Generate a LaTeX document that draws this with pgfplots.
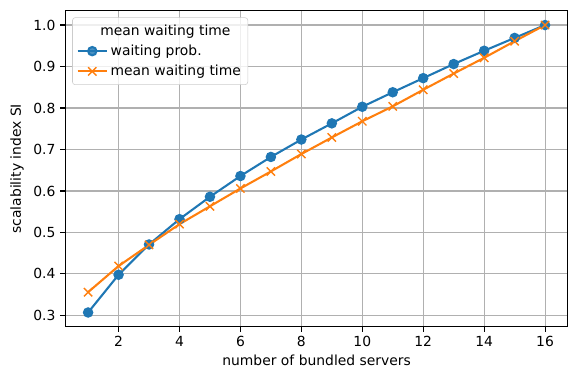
\documentclass[border=0pt]{standalone}
\usepackage{fontspec}
\setmainfont{DejaVu Sans}
\usepackage{pgfplots}
\pgfplotsset{compat=1.18}
\definecolor{mplblue}{HTML}{1F77B4}
\definecolor{mplorange}{HTML}{FF7F0E}
\definecolor{gridgray}{HTML}{B0B0B0}
\definecolor{legframe}{HTML}{CCCCCC}
\begin{document}
\fontsize{10}{12}\selectfont
\begin{tikzpicture}
\begin{axis}[
  scale only axis,
  width=362pt, height=227.7pt,
  xmin=0.25, xmax=16.75,
  ymin=0.27235, ymax=1.03465,
  xtick={2,4,...,16},
  ytick={0.3,0.4,...,1.0},
  yticklabel style={/pgf/number format/.cd, fixed, fixed zerofill, precision=1},
  /pgf/number format/assume math mode=true,
  tick pos=left,
  tick align=outside,
  major tick length=3.5pt,
  every tick/.style={black, line width=0.8pt},
  axis line style={line width=0.8pt},
  grid=major,
  major grid style={gridgray, line width=0.8pt},
  ticklabel style={font=\fontsize{10}{12}\selectfont},
  xlabel={number of bundled servers},
  ylabel={scalability index SI},
  xlabel style={yshift=1.5pt},
  label style={font=\fontsize{10}{12}\selectfont},
  legend cell align=left,
  legend style={at={(0,1)}, anchor=north west, xshift=5pt, yshift=-4.8pt,
    draw=legframe, rounded corners=2pt, fill=white, fill opacity=0.8, text opacity=1,
    font=\fontsize{10}{12}\selectfont, row sep=1.5pt, inner sep=3pt},
  legend image code/.code={\draw[mark repeat=2,mark phase=2] plot coordinates {(0pt,0pt) (10.5pt,0pt) (21pt,0pt)};},
]
\addlegendimage{empty legend}
\addlegendentry{\hspace{-7.5pt}mean waiting time}
\addplot[mplblue, line width=1.5pt, mark=*, mark size=3pt, mark options={fill=mplblue, draw=mplblue}] coordinates {
(1,0.307) (2,0.398) (3,0.471) (4,0.532) (5,0.586) (6,0.636) (7,0.682) (8,0.724)
(9,0.763) (10,0.803) (11,0.838) (12,0.872) (13,0.906) (14,0.938) (15,0.969) (16,1.0)};
\addlegendentry{waiting prob.}
\addplot[mplorange, line width=1.5pt, mark=x, mark size=4.24pt, mark options={line width=1pt}] coordinates {
(1,0.356) (2,0.419) (3,0.470) (4,0.520) (5,0.563) (6,0.606) (7,0.647) (8,0.689)
(9,0.729) (10,0.768) (11,0.804) (12,0.844) (13,0.883) (14,0.921) (15,0.961) (16,1.0)};
\addlegendentry{mean waiting time}
\end{axis}
\pgfresetboundingbox
\path (current axis.south west) ++(-47pt,-29.5pt) coordinate (bl);
\path (current axis.north east) ++(1.5pt,7.7pt) coordinate (tr);
\useasboundingbox (bl) rectangle (tr);
\end{tikzpicture}
\end{document}
